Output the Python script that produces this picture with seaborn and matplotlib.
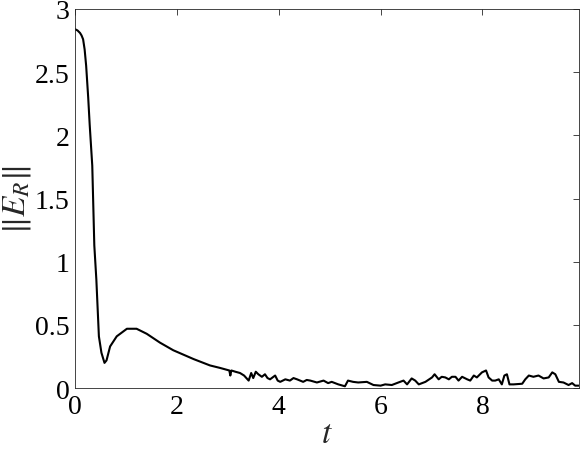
import pandas as pd
import matplotlib
matplotlib.use("Agg")
import matplotlib.pyplot as plt
import seaborn as sns

# values
t = [0.0, 0.05, 0.10, 0.13, 0.16, 0.19, 0.22, 0.26, 0.29, 0.34, 0.38, 0.42, 0.47,
     0.52, 0.58, 0.62, 0.69, 0.82, 1.02, 1.21, 1.41, 1.67, 1.93, 2.33, 2.65, 2.85,
     3.03, 3.05, 3.07, 3.15, 3.24, 3.32, 3.41, 3.46, 3.50, 3.55, 3.60, 3.67, 3.73,
     3.78, 3.83, 3.93, 3.98, 4.03, 4.13, 4.22, 4.29, 4.36, 4.48, 4.55, 4.62, 4.75,
     4.88, 4.97, 5.04, 5.17, 5.30, 5.36, 5.46, 5.56, 5.73, 5.86, 6.00, 6.09, 6.22,
     6.35, 6.45, 6.52, 6.61, 6.68, 6.75, 6.88, 7.01, 7.06, 7.14, 7.20, 7.27, 7.34,
     7.40, 7.47, 7.53, 7.60, 7.70, 7.76, 7.83, 7.89, 7.99, 8.07, 8.12, 8.19, 8.25,
     8.32, 8.38, 8.43, 8.48, 8.53, 8.61, 8.78, 8.84, 8.91, 9.00, 9.10, 9.20, 9.30,
     9.37, 9.43, 9.50, 9.59, 9.69, 9.76, 9.82, 9.89]
err = [2.84, 2.83, 2.81, 2.79, 2.76, 2.68, 2.55, 2.30, 2.08, 1.76, 1.13, 0.86, 0.41,
       0.28, 0.20, 0.22, 0.33, 0.41, 0.47, 0.47, 0.43, 0.36, 0.30, 0.23, 0.18, 0.16,
       0.14, 0.10, 0.14, 0.13, 0.12, 0.10, 0.06, 0.12, 0.08, 0.13, 0.11, 0.09, 0.11,
       0.08, 0.07, 0.10, 0.06, 0.05, 0.07, 0.06, 0.08, 0.07, 0.05, 0.065, 0.06, 0.045,
       0.06, 0.04, 0.05, 0.03, 0.015, 0.06, 0.05, 0.045, 0.05, 0.025, 0.02, 0.03, 0.025,
       0.045, 0.06, 0.03, 0.077, 0.06, 0.03, 0.05, 0.085, 0.11, 0.07, 0.09, 0.085, 0.07,
       0.09, 0.09, 0.06, 0.09, 0.07, 0.06, 0.10, 0.085, 0.125, 0.14, 0.085, 0.06, 0.06,
       0.07, 0.03, 0.10, 0.11, 0.03, 0.03, 0.035, 0.07, 0.10, 0.09, 0.10, 0.077, 0.085,
       0.125, 0.11, 0.05, 0.045, 0.025, 0.04, 0.02, 0.02]
x_ticks = [0, 2, 4, 6, 8]
y_ticks = [0, 0.5, 1, 1.5, 2, 2.5, 3]
y_tick_labels = ["0", "0.5", "1", "1.5", "2", "2.5", "3"]

df = pd.DataFrame({"t": t, "err": err})

sns.set_style("white")
plt.rcParams["font.family"] = ["Liberation Serif", "DejaVu Serif"]
plt.rcParams["mathtext.fontset"] = "stix"

fig = plt.figure(figsize=(5.81, 4.52), dpi=100)
ax = fig.add_axes([0.129, 0.139, 0.868, 0.839])

sns.lineplot(data=df, x="t", y="err", color="black", linewidth=1.5, ax=ax)

ax.set_xlim(0, 9.9)
ax.set_ylim(0, 3)
ax.set_xticks(x_ticks)
ax.set_yticks(y_ticks)
ax.set_yticklabels(y_tick_labels)
ax.tick_params(direction="in", length=4, width=0.6, top=True, right=True,
               labelsize=20, colors="0.15", labelcolor="black", pad=4)
for s in ax.spines.values():
    s.set_color("0.15")
    s.set_linewidth(0.6)

ax.set_xlabel("$t$", fontsize=24, labelpad=0)
ax.set_ylabel(r"$\|E_R\|$", fontsize=24, labelpad=1)

fig.savefig("out.png", dpi=100)
